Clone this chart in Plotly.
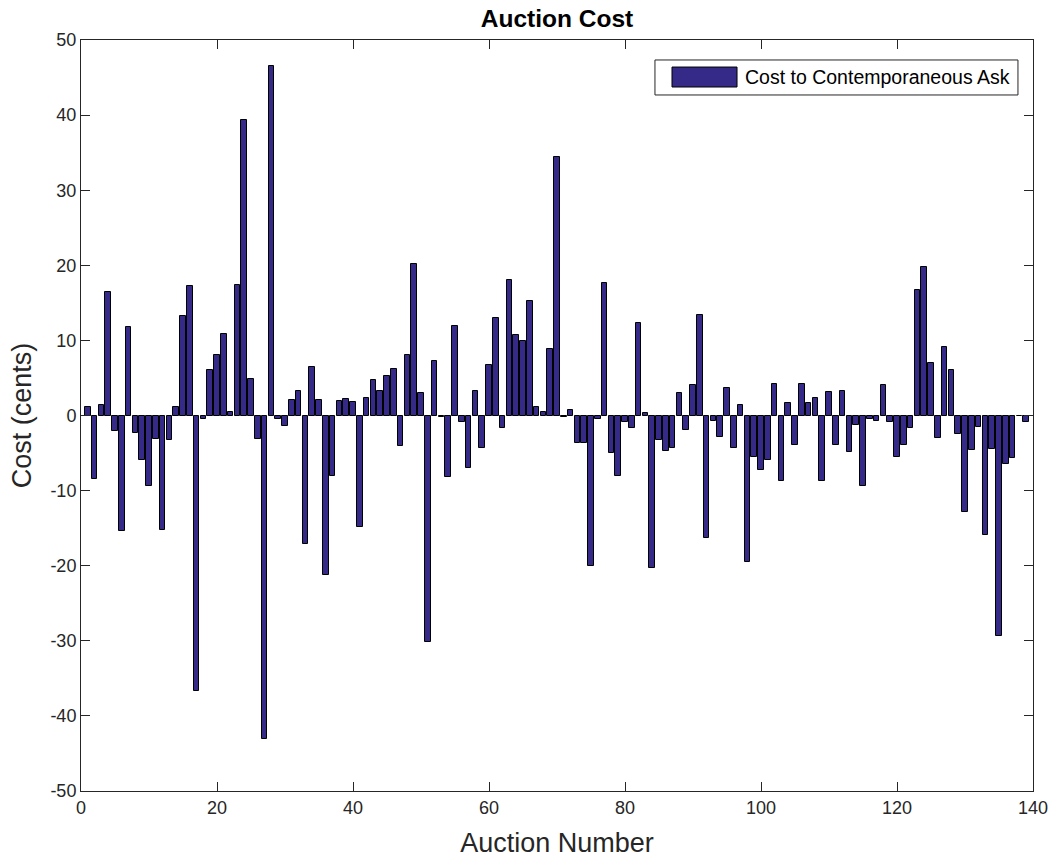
import plotly.graph_objects as go

auction = list(range(1, 140))
cost = [
    1.1, -8.5, 1.4, 16.4, -2.0, -15.4, 11.8, -2.3, -5.9, -9.4,
    -3.1, -15.3, -3.3, 1.1, 13.2, 17.2, -36.7, -0.4, 6.1, 8.1,
    10.8, 0.5, 17.4, 39.3, 4.8, -3.1, -43.1, 46.5, -0.4, -1.4,
    2.1, 3.2, -17.1, 6.4, 2.0, -21.3, -8.1, 1.9, 2.2, 1.8,
    -14.8, 2.3, 4.7, 3.2, 5.3, 6.2, -4.0, 8.0, 20.2, 3.0,
    -30.2, 7.3, -0.2, -8.2, 11.9, -0.8, -7.0, 3.3, -4.3, 6.7,
    13.0, -1.6, 18.1, 10.7, 9.9, 15.3, 1.1, 0.5, 8.9, 34.4,
    -0.15, 0.7, -3.6, -3.6, -20.1, -0.4, 17.7, -5.0, -8.0, -0.8,
    -1.6, 12.3, 0.3, -20.3, -3.3, -4.7, -4.3, 3.0, -1.9, 4.1,
    13.4, -16.3, -0.75, -2.8, 3.6, -4.3, 1.4, -19.5, -5.5, -7.3,
    -5.9, 4.2, -8.7, 1.6, -3.9, 4.2, 1.6, 2.3, -8.7, 3.1,
    -3.9, 3.2, -4.8, -1.2, -9.4, -0.5, -0.7, 4.1, -0.8, -5.5,
    -3.9, -1.6, 16.7, 19.8, 7.0, -3.0, 9.1, 6.0, -2.4, -12.9,
    -4.6, -1.5, -15.9, -4.5, -29.4, -6.5, -5.7, -0.05, -0.9,
]
x_ticks = [0, 20, 40, 60, 80, 100, 120, 140]
y_ticks = [-50, -40, -30, -20, -10, 0, 10, 20, 30, 40, 50]
y_ticktext = ["-50", "-40", "-30", "-20", "-10", "0", "10", "20", "30", "40", "50"]
series_name = "Cost to Contemporaneous Ask"

BAR = "rgb(53,42,135)"
FONT = "Liberation Sans, Arial, Helvetica, sans-serif"
AX = "rgb(38,38,38)"

fig = go.Figure()
fig.add_trace(go.Bar(
    x=auction, y=cost, width=0.8, name=series_name,
    marker=dict(color=BAR, line=dict(color="black", width=1)),
    showlegend=False,
))

axis_common = dict(
    showgrid=False, zeroline=False, showline=True, linecolor=AX, linewidth=1,
    mirror="ticks", ticks="inside", ticklen=9, tickcolor=AX, tickwidth=1,
    tickfont=dict(family=FONT, size=18, color=AX), automargin=False,
)
fig.update_xaxes(range=[0, 140], tickvals=x_ticks, **axis_common,
                 title=dict(text="Auction Number", font=dict(family=FONT, size=27, color=AX), standoff=18))
fig.update_yaxes(range=[-50, 50], tickvals=y_ticks, ticktext=y_ticktext, **axis_common,
                 title=dict(text="Cost (cents)", font=dict(family=FONT, size=27, color=AX), standoff=10))

# legend drawn as shapes + text (MATLAB style)
fig.add_shape(type="rect", xref="paper", yref="paper", x0=0.6029, x1=0.9842, y0=0.9268, y1=0.9734,
              line=dict(color=AX, width=1), fillcolor="white")
fig.add_shape(type="rect", xref="paper", yref="paper", x0=0.6208, x1=0.6891, y0=0.9374, y1=0.9640,
              line=dict(color="black", width=1), fillcolor=BAR)
fig.add_annotation(xref="paper", yref="paper", x=0.6954, y=0.9507, xanchor="left", yanchor="middle",
                   text=series_name, showarrow=False, font=dict(family=FONT, size=19.5, color="black"))

fig.update_layout(
    width=1051, height=858,
    margin=dict(l=81, r=18, t=40, b=67),
    paper_bgcolor="white", plot_bgcolor="white",
    title=dict(text="<b>Auction Cost</b>", x=0.53, xanchor="center", y=0.978, yanchor="middle",
               font=dict(family=FONT, size=24.5, color="black")),
    bargap=0,
)

fig.write_html("out.html", config={"displayModeBar": False},
               post_script="document.body.style.margin='0';")
